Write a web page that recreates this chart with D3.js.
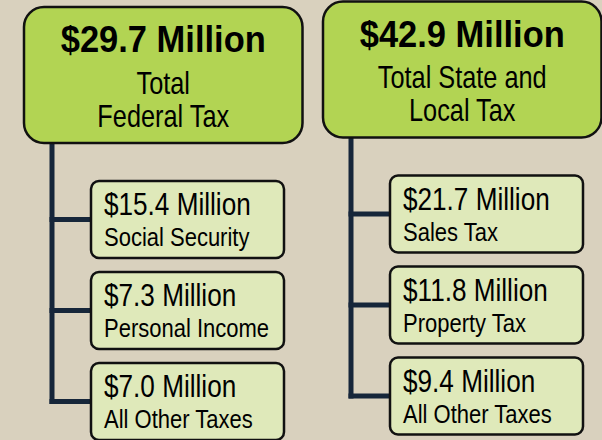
<!DOCTYPE html>
<html>
<head>
<meta charset="utf-8">
<script src="https://cdn.jsdelivr.net/npm/d3@7"></script>
<style>
  html, body { margin: 0; padding: 0; background: #d9d1be; }
  svg { display: block; }
  text { font-family: "Liberation Sans", Arial, sans-serif; fill: #000; }
</style>
</head>
<body>
<div id="chart"></div>
<script>
// totals (one column each)
const totalValues = ["$29.7 Million", "$42.9 Million"];
const totalLabels = [["Total", "Federal Tax"], ["Total State and", "Local Tax"]];

// breakdown for each column
const partValues = [
  ["$15.4 Million", "$7.3 Million", "$7.0 Million"],
  ["$21.7 Million", "$11.8 Million", "$9.4 Million"]
];
const partLabels = [
  ["Social Security", "Personal Income", "All Other Taxes"],
  ["Sales Tax", "Property Tax", "All Other Taxes"]
];

const width = 602, height = 440;

const svg = d3.select("#chart")
  .append("svg")
  .attr("width", width)
  .attr("height", height);

// column x positions and vertical offset (right column sits a bit higher)
const colX = d3.scalePoint().domain([0, 1]).range([24, 323]);
const colY = d3.scalePoint().domain([0, 1]).range([7, 1.5]);

// child rows
const rowY = d3.scaleBand().domain([0, 1, 2]).range([174, 433]).paddingInner(0.154).paddingOuter(0);

const bigW = 278.5, bigH = 136;
const kidDx = 67, kidW = 193;
const lineDx = 28;

const cols = svg.selectAll("g.col")
  .data(totalValues)
  .enter().append("g")
  .attr("class", "col")
  .attr("transform", (d, i) => `translate(${colX(i)},${colY(i)})`);

// connector lines
cols.each(function(d, i) {
  const g = d3.select(this);
  const lastY = rowY(2) + rowY.bandwidth() / 2;
  g.append("line")
    .attr("x1", lineDx).attr("x2", lineDx)
    .attr("y1", bigH).attr("y2", lastY + 2.5)
    .attr("stroke", "#16263a").attr("stroke-width", 5);
  g.selectAll("line.branch")
    .data(partValues[i])
    .enter().append("line")
    .attr("class", "branch")
    .attr("x1", lineDx - 2.5).attr("x2", kidDx)
    .attr("y1", (v, j) => rowY(j) + rowY.bandwidth() / 2)
    .attr("y2", (v, j) => rowY(j) + rowY.bandwidth() / 2)
    .attr("stroke", "#16263a").attr("stroke-width", 5);
});

// big total boxes
cols.append("rect")
  .attr("width", bigW).attr("height", bigH)
  .attr("rx", 20).attr("ry", 20)
  .attr("fill", "#b2d453")
  .attr("stroke", "#111").attr("stroke-width", 2.5);

cols.append("g")
  .attr("transform", `translate(${bigW / 2},45) scale(0.92,1)`)
  .append("text")
  .attr("text-anchor", "middle")
  .attr("font-size", 37.5)
  .attr("font-weight", "bold")
  .text(d => d);

cols.each(function(d, i) {
  const g = d3.select(this);
  totalLabels[i].forEach((t, k) => {
    g.append("g")
      .attr("transform", `translate(${bigW / 2},${86.5 + k * 33}) scale(0.83,1)`)
      .append("text")
      .attr("text-anchor", "middle")
      .attr("font-size", 30.5)
      .text(t);
  });
});

// breakdown boxes
cols.each(function(d, i) {
  const g = d3.select(this);
  const kids = g.selectAll("g.kid")
    .data(partValues[i])
    .enter().append("g")
    .attr("class", "kid")
    .attr("transform", (v, j) => `translate(${kidDx},${rowY(j)})`);

  kids.append("rect")
    .attr("width", kidW).attr("height", rowY.bandwidth())
    .attr("rx", 8).attr("ry", 8)
    .attr("fill", "#dfe9ba")
    .attr("stroke", "#111").attr("stroke-width", 2.5);

  kids.append("g")
    .attr("transform", "translate(13,34) scale(0.83,1)")
    .append("text")
    .attr("font-size", 31.5)
    .text(v => v);

  kids.append("g")
    .attr("transform", "translate(13,65) scale(0.83,1)")
    .append("text")
    .attr("font-size", 26.5)
    .text((v, j) => partLabels[i][j]);
});
</script>
</body>
</html>
